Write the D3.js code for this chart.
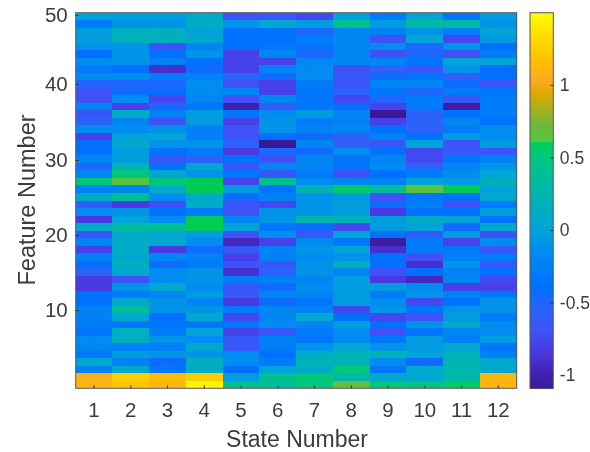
<!DOCTYPE html>
<html>
<head>
<meta charset="utf-8">
<script src="https://d3js.org/d3.v7.min.js"></script>
<style>
    body { margin: 0; background: #fff; }
    svg { filter: blur(0.45px); }
    text { font-family: "Liberation Sans", Arial, sans-serif; fill: #3c3c3c; }
</style>
</head>
<body>
<script>
// values per state, listed from feature 50 (top row) down to feature 1
var state1 = [0,-.3,-.05,-.05,-.1,-.4,-.15,-.3,-.15,-.5,-.7,-.7,-.2,-.65,-.55,-.15,-.8,-.4,-.4,-.2,-.5,-.2,.5,-.25,
    .1,-.6,-.15,-.85,.1,-.65,-.2,-.8,-.25,-.4,-.55,-.85,-.85,-.4,-.4,-.25,-.25,-.3,-.35,-.15,-.2,-.35,.05,-.25,1.05,1.1];
var state2 = [-.05,-.1,.15,.15,-.1,-.1,-.1,-.4,-.15,-.5,-.45,-.15,-.8,.1,-.2,-.15,0,.05,-.05,-.05,.2,.5,.63,-.2,
    .35,-.85,-.1,0,.3,.1,.1,.1,.05,.15,.05,-.7,-.1,-.3,.05,.35,.05,-.35,.15,.15,-.25,-.05,-.25,.05,1.25,1.2];
var state3 = [-.05,-.1,.15,.15,-.7,-.4,-.25,-.9,-.3,-.5,-.45,-.75,-.5,-.25,-.7,-.1,0,-.1,-.4,-.65,-.4,.05,.5,.1,
    -.15,-.7,-.4,-.15,.35,.05,.05,-.85,-.2,-.45,-.15,-.15,.05,-.2,-.1,-.1,-.4,-.35,-.3,-.1,-.25,-.1,-.45,-.35,1.15,1.1];
var state4 = [.1,.1,0,.05,-.2,-.1,-.4,-.45,-.25,-.15,-.15,-.2,-.35,-.05,-.05,-.25,-.25,-.1,-.3,-.55,.05,-.1,.6,.6,
    .1,.1,-.3,.6,.6,-.05,-.15,-.45,-.25,-.3,-.1,-.1,-.15,-.05,-.2,-.1,.05,-.35,0,-.15,.05,-.1,.15,.1,1.25,1.45];
var state5 = [-.7,-.1,-.4,-.4,-.4,-.8,-.8,-.8,-.55,-.7,-.2,-.7,-1,-.35,-.8,-.7,-.7,-.55,-.85,-.4,-.7,-.35,-.8,-.05,
    -.45,-.7,-.7,-.2,0,-.7,-.95,-.65,-.8,-.7,-.9,-.3,-.65,-.65,-.85,-.3,-.75,-.35,-.8,-.65,-.65,-.15,-.15,-.4,-.05,.4];
var state6 = [-.65,.05,-.4,-.4,-.35,-.2,-.8,-.25,-.45,-.8,-.8,-.2,-.6,-.15,-.1,-.1,-.4,-1.1,-.5,-.7,-.2,-.65,.4,-.35,
    -.25,-.75,-.1,-.1,-.35,-.15,-.8,-.25,-.25,-.65,-.55,-.25,-.45,-.2,-.45,-.2,-.2,-.15,-.65,-.25,-.3,-.4,-.3,0,.4,.35];
var state7 = [-.75,-.05,-.5,-.3,-.35,-.5,-.2,-.15,-.15,-.3,-.35,-.35,-.35,-.05,-.3,-.25,-.45,-.2,-.45,-.2,-.2,-.3,-.15,.2,
    -.1,-.1,-.1,.25,-.45,-.65,-.15,-.1,-.15,-.1,-.1,-.2,-.15,-.2,-.35,-.25,.05,-.2,-.3,-.35,-.1,.1,.2,.1,.5,.5];
var state8 = [0,.4,-.2,-.2,-.2,-.2,-.2,-.7,-.65,-.7,-.55,-.75,-.45,-.2,-.25,-.2,-.55,-.6,-.15,-.35,-.35,-.7,-.2,.55,
    -.05,-.05,-.05,.2,-.75,0,-.35,0,-.1,.15,-.2,-.05,-.05,-.05,-.05,-.75,-.4,-.05,-.15,-.15,.05,.2,.2,.5,.3,.68];
var state9 = [-.3,-.05,-.25,-.7,-.15,-.7,-.2,-.55,-.45,-.2,-.35,-.5,-.8,-1.1,-.8,-.4,-.25,-.65,-.4,-.2,-.15,-.4,-.2,.35,
    -.7,-.45,-.85,-.05,-.05,-.4,-1.05,-.9,-.4,-.4,-.7,-.85,-.05,-.3,-.15,-.1,-.75,-.4,-.7,-.35,-.1,.2,-.15,-.35,.05,.5];
var state10 = [0,.3,-.1,0,-.5,-.5,-.35,-.65,-.35,-.2,-.5,-.3,-.3,-.55,-.55,-.55,-.4,0,-.75,-.75,-.55,-.3,0,.64,
    -.35,-.25,-.4,.1,0,-.6,-.3,-.3,-.7,-.9,-.4,-.95,-.15,-.1,-.75,-.35,-.7,-.1,-.35,-.05,-.05,0,-.45,.05,.05,.45];
var state11 = [-.35,.3,-.3,-.75,-.1,-.7,0,-.1,-.6,-.45,-.3,-.65,-1.05,-.4,-.2,-.3,-.05,-.7,-.65,-.35,-.2,-.15,-.05,.6,
    -.4,-.7,-.4,0,-.45,-.05,-.8,-.35,-.25,-.1,-.25,-.2,-.8,-.25,-.4,-.1,-.05,.05,-.2,-.25,.05,.2,.2,.25,.3,.55];
var state12 = [-.05,-.1,0,-.05,-.4,-.3,0,-.4,-.4,-.65,-.35,-.3,-.3,-.3,-.4,-.15,-.15,-.05,-.65,-.25,-.1,0,.15,0,
    .05,-.3,-.05,-.4,.05,-.7,-.15,-.65,-.3,-.65,-.4,-.75,-.8,-.35,-.1,-.1,-.3,-.15,-.15,-.05,-.35,-.25,.05,.05,1.1,1.1];

var stateValues = [state1, state2, state3, state4, state5, state6, state7, state8, state9, state10, state11, state12];
var stateLabels = d3.range(1, 13);
var featureLabels = d3.range(50, 0, -1);
var featureTicks = [10, 20, 30, 40, 50];
var colorTicks = [-1, -0.5, 0, 0.5, 1];

// colormap, note the hard step at 0.6
var colorStops = [-1.09, -1, -0.85, -0.7, -0.55, -0.4, -0.15, 0, 0.28, 0.51, 0.6, 0.601, 0.72, 0.83, 0.93, 1.03, 1.17, 1.31, 1.497];
var colorValues = ["#3a1a98", "#4020b0", "#4a38e0", "#3f52f8", "#2a62fa", "#0070ff", "#008cf0", "#00a4d8", "#00b8a8", "#00c87a",
    "#00cc55", "#50c840", "#70b838", "#a8b020", "#d8aa00", "#ffaa20", "#ffc000", "#ffd800", "#ffff00"];

var width = 590;
var height = 452;
var plot = {left: 75.7, right: 516.7, top: 12.7, bottom: 388.3};
var bar = {left: 530, right: 553.3, top: 12.7, bottom: 388.3};

var svg = d3.select("body")
            .append("svg")
            .attr("width", width)
            .attr("height", height);

var color = d3.scaleLinear().domain(colorStops).range(colorValues);

var xScale = d3.scaleBand()
                .domain(stateLabels)
                .range([plot.left, plot.right]);

var rowScale = d3.scaleBand()
                .domain(featureLabels)
                .range([plot.top, plot.bottom]);

// the tick marks of the picture are not evenly spread over the rows
var yTickScale = d3.scaleLinear()
                .domain(featureTicks)
                .range([310, 235, 160, 84, 15]);

// cells
var columns = svg.selectAll("g.state")
                .data(stateValues)
                .enter()
                .append("g")
                .attr("class", "state")
                .attr("transform", function(d, i) { return "translate(" + xScale(stateLabels[i]) + ",0)"; });

columns.selectAll("rect")
    .data(function(d) { return d; })
    .enter()
    .append("rect")
    .attr("y", function(d, i) { return rowScale(featureLabels[i]); })
    .attr("width", xScale.bandwidth())
    .attr("height", rowScale.bandwidth())
    .attr("shape-rendering", "crispEdges")
    .attr("fill", function(d) { return color(d); });

// box around the map
svg.append("rect")
    .attr("x", plot.left)
    .attr("y", plot.top)
    .attr("width", plot.right - plot.left)
    .attr("height", plot.bottom - plot.top)
    .attr("fill", "none")
    .attr("stroke", "#555");

// axes, ticks point inwards like in matlab
var xAxis = d3.axisBottom(xScale).tickSize(-3).tickPadding(14);
var yAxis = d3.axisLeft(yTickScale).tickValues(featureTicks).tickSize(-3).tickPadding(8);

var gx = svg.append("g")
    .attr("transform", "translate(0," + plot.bottom + ")")
    .call(xAxis);

var gy = svg.append("g")
    .attr("transform", "translate(" + plot.left + ",0)")
    .call(yAxis);

// colorbar
var barScale = d3.scaleLinear()
                .domain([-1.09, 1.497])
                .range([bar.bottom, bar.top]);

var barSteps = d3.range(-1.09, 1.497, 0.0125);

svg.selectAll("rect.step")
    .data(barSteps)
    .enter()
    .append("rect")
    .attr("class", "step")
    .attr("x", bar.left)
    .attr("y", function(d) { return barScale(d + 0.0125); })
    .attr("width", bar.right - bar.left)
    .attr("height", function(d) { return barScale(d) - barScale(d + 0.0125) + 0.4; })
    .attr("shape-rendering", "crispEdges")
    .attr("fill", function(d) { return color(d); });

svg.append("rect")
    .attr("x", bar.left)
    .attr("y", bar.top)
    .attr("width", bar.right - bar.left)
    .attr("height", bar.bottom - bar.top)
    .attr("fill", "none")
    .attr("stroke", "#555");

var cAxis = d3.axisRight(barScale).tickValues(colorTicks).tickFormat(String).tickSize(-3).tickPadding(6.5);

var gc = svg.append("g")
    .attr("transform", "translate(" + bar.right + ",0)")
    .call(cAxis);

[gx, gy, gc].forEach(function(g) {
    g.select(".domain").remove();
    g.selectAll(".tick line").attr("stroke", "#333");
    g.selectAll("text").style("font-size", "20.5px");
});
gc.selectAll("text").style("font-size", "17.5px");

// axis labels
svg.append("text")
    .attr("x", 297)
    .attr("y", 447)
    .attr("text-anchor", "middle")
    .style("font-size", "23px")
    .text("State Number");

svg.append("text")
    .attr("transform", "translate(35,200) rotate(-90)")
    .attr("text-anchor", "middle")
    .style("font-size", "23.5px")
    .text("Feature Number");
</script>
</body>
</html>
